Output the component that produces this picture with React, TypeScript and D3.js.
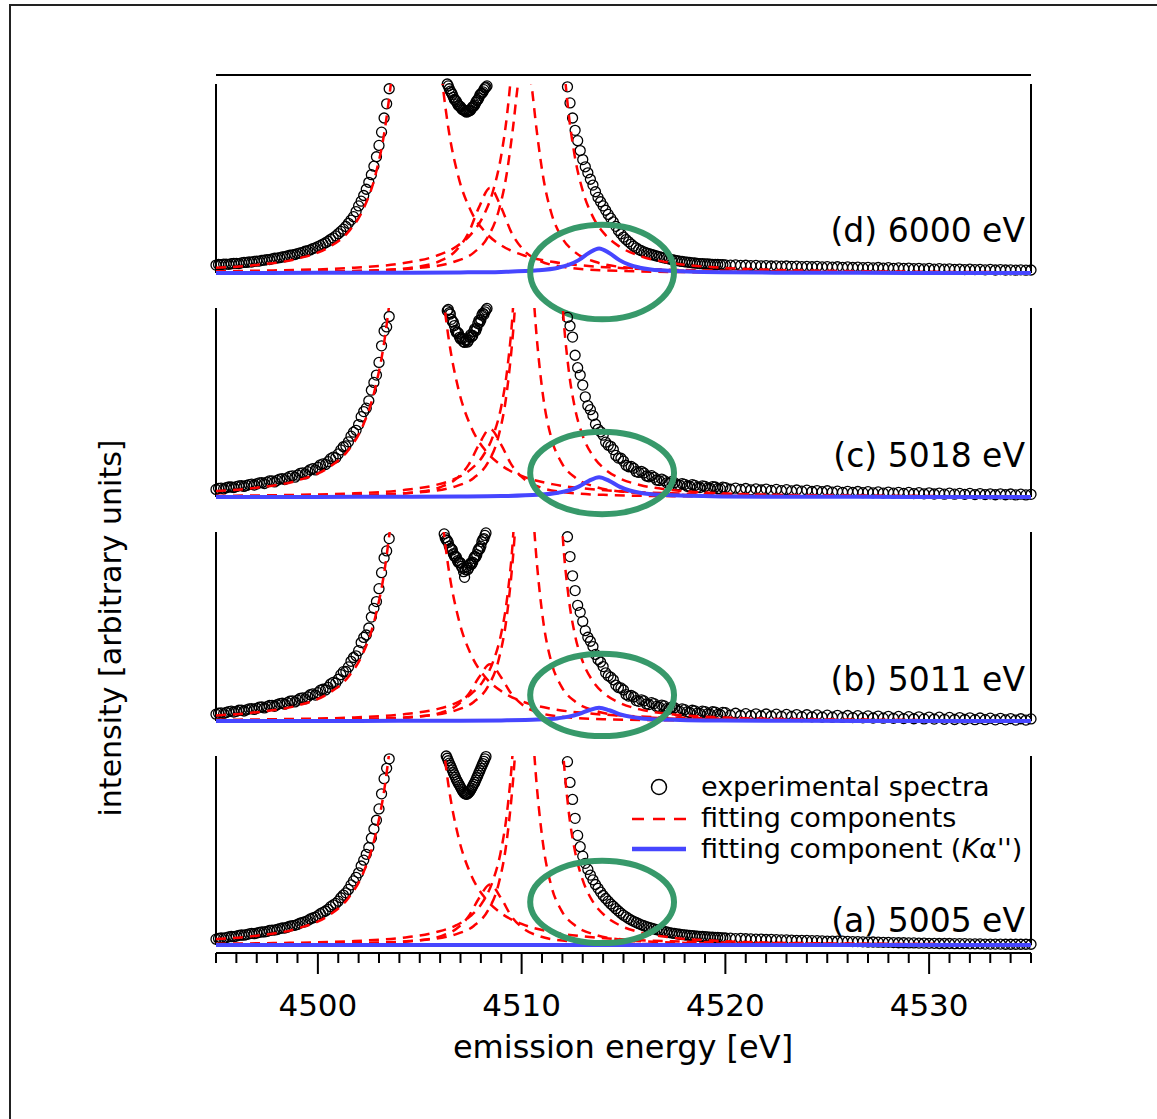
import React from "react";
import * as d3 from "d3";

// ---------------- DATA ----------------
const panelLabels = ["(d) 6000 eV", "(c) 5018 eV", "(b) 5011 eV", "(a) 5005 eV"];
const xTickLabels = [4500, 4510, 4520, 4530];
const legendLabels = ["experimental spectra", "fitting components", "fitting component ("];

// experimental spectra: energies (eV)
const expLeftE = [4495, 4495.125, 4495.25, 4495.375, 4495.5, 4495.625, 4495.75, 4495.875, 4496, 4496.125, 4496.25, 4496.375, 4496.5, 4496.625, 4496.75, 4496.875, 4497, 4497.125, 4497.25, 4497.375, 4497.5, 4497.625, 4497.75, 4497.875, 4498, 4498.125, 4498.25, 4498.375, 4498.5, 4498.625, 4498.75, 4498.875, 4499, 4499.125, 4499.25, 4499.375, 4499.5, 4499.625, 4499.75, 4499.875, 4500, 4500.125, 4500.25, 4500.375, 4500.5, 4500.625, 4500.75, 4500.875, 4501, 4501.125, 4501.25, 4501.375, 4501.5, 4501.625, 4501.75, 4501.875, 4502, 4502.125, 4502.25, 4502.375, 4502.5, 4502.625, 4502.75, 4502.875, 4503, 4503.125, 4503.25, 4503.375, 4503.5];
const expMidE = [4506.2, 4506.25, 4506.3, 4506.35, 4506.4, 4506.45, 4506.5, 4506.55, 4506.6, 4506.65, 4506.7, 4506.75, 4506.8, 4506.85, 4506.9, 4506.95, 4507.0, 4507.05, 4507.1, 4507.15, 4507.2, 4507.25, 4507.3, 4507.35, 4507.4, 4507.45, 4507.5, 4507.55, 4507.6, 4507.65, 4507.7, 4507.75, 4507.8, 4507.85, 4507.9, 4507.95, 4508.0, 4508.05, 4508.1, 4508.15, 4508.2, 4508.25, 4508.3];
const expRightE = [4512.25, 4512.375, 4512.5, 4512.625, 4512.75, 4512.875, 4513, 4513.125, 4513.25, 4513.375, 4513.5, 4513.625, 4513.75, 4513.875, 4514, 4514.125, 4514.25, 4514.375, 4514.5, 4514.625, 4514.75, 4514.875, 4515, 4515.125, 4515.25, 4515.375, 4515.5, 4515.625, 4515.75, 4515.875, 4516, 4516.125, 4516.25, 4516.375, 4516.5, 4516.625, 4516.75, 4516.875, 4517, 4517.125, 4517.25, 4517.375, 4517.5, 4517.625, 4517.75, 4517.875, 4518, 4518.125, 4518.25, 4518.375, 4518.5, 4518.625, 4518.75, 4518.875, 4519, 4519.125, 4519.25, 4519.375, 4519.5, 4519.625, 4519.75, 4519.875, 4520,
  4520.25, 4520.5, 4520.75, 4521, 4521.25, 4521.5, 4521.75, 4522, 4522.25, 4522.5, 4522.75, 4523, 4523.25, 4523.5, 4523.75, 4524, 4524.25, 4524.5, 4524.75, 4525, 4525.25, 4525.5, 4525.75, 4526, 4526.25, 4526.5, 4526.75, 4527, 4527.25, 4527.5, 4527.75, 4528, 4528.25, 4528.5, 4528.75, 4529, 4529.25, 4529.5, 4529.75, 4530, 4530.25, 4530.5, 4530.75, 4531, 4531.25, 4531.5, 4531.75, 4532, 4532.25, 4532.5, 4532.75, 4533, 4533.25, 4533.5, 4533.75, 4534, 4534.25, 4534.5, 4534.75, 4535];

// experimental intensities (1 = top of each panel)
const expLeft_d = [0.042, 0.045, 0.044, 0.047, 0.047, 0.046, 0.049, 0.051, 0.051, 0.05, 0.054, 0.056, 0.056, 0.059, 0.058, 0.062, 0.063, 0.063, 0.067, 0.068, 0.071, 0.071, 0.075, 0.078, 0.079, 0.081, 0.085, 0.086, 0.09, 0.094, 0.096, 0.098, 0.103, 0.106, 0.109, 0.115, 0.118, 0.122, 0.129, 0.133, 0.14, 0.146, 0.153, 0.16, 0.168, 0.178, 0.186, 0.196, 0.208, 0.22, 0.232, 0.246, 0.263, 0.28, 0.298, 0.325, 0.355, 0.38, 0.41, 0.443, 0.48, 0.52, 0.565, 0.615, 0.675, 0.745, 0.82, 0.895, 0.975];
const expLeft_c = [0.04, 0.046, 0.047, 0.043, 0.049, 0.053, 0.053, 0.05, 0.055, 0.059, 0.06, 0.056, 0.061, 0.066, 0.068, 0.063, 0.069, 0.075, 0.076, 0.071, 0.079, 0.085, 0.085, 0.08, 0.088, 0.095, 0.097, 0.092, 0.101, 0.109, 0.112, 0.105, 0.116, 0.125, 0.128, 0.122, 0.134, 0.145, 0.15, 0.143, 0.157, 0.17, 0.175, 0.172, 0.187, 0.203, 0.211, 0.207, 0.228, 0.249, 0.266, 0.27, 0.292, 0.322, 0.343, 0.353, 0.383, 0.425, 0.452, 0.47, 0.509, 0.565, 0.606, 0.645, 0.712, 0.8, 0.878, 0.9, 0.955];
const expLeft_b = [0.036, 0.041, 0.043, 0.039, 0.045, 0.05, 0.052, 0.047, 0.051, 0.057, 0.058, 0.053, 0.059, 0.064, 0.066, 0.061, 0.067, 0.073, 0.074, 0.069, 0.076, 0.082, 0.083, 0.078, 0.086, 0.092, 0.094, 0.089, 0.097, 0.105, 0.107, 0.101, 0.11, 0.119, 0.122, 0.117, 0.128, 0.139, 0.143, 0.137, 0.15, 0.163, 0.168, 0.164, 0.178, 0.196, 0.204, 0.2, 0.221, 0.245, 0.261, 0.262, 0.286, 0.316, 0.336, 0.345, 0.372, 0.415, 0.442, 0.455, 0.492, 0.55, 0.596, 0.632, 0.7, 0.785, 0.862, 0.9, 0.965];
const expLeft_a = [0.031, 0.035, 0.037, 0.036, 0.039, 0.043, 0.045, 0.044, 0.047, 0.051, 0.053, 0.052, 0.055, 0.059, 0.061, 0.06, 0.063, 0.067, 0.069, 0.069, 0.072, 0.077, 0.079, 0.079, 0.082, 0.087, 0.09, 0.09, 0.094, 0.1, 0.103, 0.104, 0.109, 0.116, 0.12, 0.123, 0.129, 0.138, 0.143, 0.148, 0.155, 0.166, 0.173, 0.18, 0.189, 0.203, 0.212, 0.22, 0.232, 0.25, 0.264, 0.276, 0.294, 0.318, 0.339, 0.358, 0.382, 0.418, 0.449, 0.48, 0.516, 0.565, 0.614, 0.66, 0.72, 0.8, 0.88, 0.935, 0.985];

const expMid_d = [1.06, 1.04, 1.02, 1.0, 0.99, 0.975, 0.962, 0.955, 0.945, 0.93, 0.918, 0.914, 0.907, 0.895, 0.886, 0.884, 0.879, 0.87, 0.864, 0.863, 0.86, 0.855, 0.851, 0.855, 0.858, 0.858, 0.862, 0.872, 0.879, 0.882, 0.889, 0.902, 0.912, 0.917, 0.926, 0.94, 0.948, 0.951, 0.958, 0.97, 0.979, 0.983, 0.99];
const expMid_c = [1.04, 1.03, 1.01, 0.985, 0.992, 0.975, 0.968, 0.94, 0.928, 0.925, 0.907, 0.882, 0.87, 0.872, 0.866, 0.845, 0.836, 0.842, 0.838, 0.822, 0.818, 0.828, 0.832, 0.82, 0.83, 0.845, 0.858, 0.848, 0.855, 0.876, 0.89, 0.88, 0.894, 0.918, 0.934, 0.925, 0.938, 0.962, 0.972, 0.965, 0.98, 0.99, 0.998];
const expMid_b = [0.99, 0.97, 0.958, 0.955, 0.945, 0.925, 0.913, 0.912, 0.905, 0.885, 0.872, 0.872, 0.866, 0.848, 0.838, 0.84, 0.836, 0.818, 0.808, 0.79, 0.76, 0.8, 0.816, 0.8, 0.808, 0.825, 0.836, 0.83, 0.84, 0.86, 0.871, 0.868, 0.88, 0.9, 0.912, 0.91, 0.925, 0.948, 0.96, 0.965, 0.982, 0.995, 1.01];
const expMid_a = [1.03, 1.015, 1.0, 0.988, 0.975, 0.962, 0.95, 0.938, 0.925, 0.912, 0.9, 0.887, 0.875, 0.865, 0.855, 0.845, 0.835, 0.825, 0.815, 0.808, 0.802, 0.799, 0.797, 0.8, 0.805, 0.812, 0.82, 0.83, 0.84, 0.85, 0.86, 0.872, 0.885, 0.897, 0.91, 0.922, 0.935, 0.948, 0.96, 0.972, 0.985, 0.997, 1.01];

const expRight_d = [0.985, 0.9, 0.82, 0.755, 0.7, 0.648, 0.6, 0.562, 0.53, 0.496, 0.465, 0.43, 0.4, 0.377, 0.355, 0.332, 0.31, 0.29, 0.27, 0.247, 0.225, 0.207, 0.19, 0.177, 0.165, 0.153, 0.142, 0.133, 0.124, 0.118, 0.112, 0.107, 0.102, 0.098, 0.094, 0.09, 0.087, 0.083, 0.08, 0.077, 0.074, 0.071, 0.068, 0.066, 0.063, 0.061, 0.059, 0.058, 0.056, 0.054, 0.053, 0.051, 0.05, 0.049, 0.048, 0.048, 0.047, 0.046, 0.045, 0.045, 0.044, 0.044, 0.043,
  0.042, 0.043, 0.04, 0.041, 0.039, 0.04, 0.038, 0.039, 0.037, 0.038, 0.036, 0.037, 0.035, 0.036, 0.034, 0.035, 0.033, 0.035, 0.032, 0.034, 0.031, 0.033, 0.03, 0.032, 0.029, 0.031, 0.028, 0.03, 0.027, 0.029, 0.026, 0.028, 0.025, 0.027, 0.024, 0.026, 0.023, 0.025, 0.022, 0.024, 0.021, 0.023, 0.02, 0.022, 0.019, 0.021, 0.018, 0.02, 0.018, 0.019, 0.017, 0.019, 0.016, 0.018, 0.016, 0.017, 0.015, 0.017, 0.015, 0.016];
const expRight_c = [0.95, 0.905, 0.846, 0.75, 0.684, 0.645, 0.592, 0.53, 0.483, 0.462, 0.431, 0.385, 0.358, 0.345, 0.327, 0.29, 0.274, 0.268, 0.251, 0.22, 0.206, 0.205, 0.19, 0.168, 0.16, 0.162, 0.152, 0.134, 0.13, 0.136, 0.127, 0.111, 0.107, 0.113, 0.104, 0.09, 0.087, 0.095, 0.087, 0.075, 0.073, 0.082, 0.076, 0.064, 0.063, 0.071, 0.067, 0.057, 0.056, 0.065, 0.061, 0.051, 0.05, 0.059, 0.056, 0.047, 0.046, 0.055, 0.053, 0.044, 0.043, 0.052, 0.05,
  0.041, 0.047, 0.04, 0.045, 0.038, 0.043, 0.037, 0.042, 0.035, 0.04, 0.034, 0.039, 0.032, 0.037, 0.031, 0.036, 0.029, 0.034, 0.028, 0.033, 0.026, 0.031, 0.025, 0.03, 0.024, 0.029, 0.023, 0.028, 0.022, 0.027, 0.021, 0.026, 0.02, 0.025, 0.019, 0.024, 0.018, 0.023, 0.017, 0.022, 0.016, 0.021, 0.015, 0.02, 0.015, 0.019, 0.014, 0.019, 0.013, 0.018, 0.013, 0.017, 0.012, 0.017, 0.012, 0.016, 0.011, 0.015, 0.011, 0.014];
const expRight_b = [0.975, 0.87, 0.768, 0.69, 0.612, 0.575, 0.527, 0.478, 0.443, 0.422, 0.394, 0.352, 0.326, 0.312, 0.288, 0.255, 0.239, 0.232, 0.218, 0.19, 0.177, 0.175, 0.164, 0.14, 0.132, 0.135, 0.127, 0.108, 0.104, 0.112, 0.106, 0.09, 0.087, 0.097, 0.092, 0.077, 0.074, 0.084, 0.08, 0.066, 0.063, 0.074, 0.07, 0.055, 0.052, 0.064, 0.06, 0.048, 0.045, 0.057, 0.054, 0.042, 0.04, 0.052, 0.05, 0.038, 0.036, 0.049, 0.047, 0.035, 0.033, 0.046, 0.044,
  0.031, 0.041, 0.029, 0.039, 0.028, 0.038, 0.027, 0.037, 0.026, 0.036, 0.025, 0.035, 0.024, 0.034, 0.023, 0.033, 0.022, 0.032, 0.021, 0.031, 0.02, 0.03, 0.019, 0.029, 0.018, 0.028, 0.017, 0.027, 0.016, 0.026, 0.015, 0.025, 0.014, 0.024, 0.013, 0.023, 0.012, 0.022, 0.011, 0.021, 0.01, 0.02, 0.009, 0.019, 0.008, 0.018, 0.008, 0.017, 0.007, 0.016, 0.007, 0.015, 0.006, 0.014, 0.006, 0.013, 0.005, 0.012, 0.005, 0.011];
const expRight_a = [0.97, 0.86, 0.77, 0.67, 0.58, 0.52, 0.47, 0.432, 0.4, 0.37, 0.345, 0.32, 0.3, 0.28, 0.262, 0.246, 0.232, 0.217, 0.205, 0.192, 0.18, 0.168, 0.158, 0.149, 0.14, 0.132, 0.125, 0.119, 0.113, 0.107, 0.102, 0.097, 0.093, 0.089, 0.085, 0.081, 0.078, 0.075, 0.072, 0.069, 0.066, 0.063, 0.061, 0.059, 0.057, 0.055, 0.054, 0.052, 0.051, 0.049, 0.048, 0.047, 0.046, 0.045, 0.044, 0.043, 0.042, 0.041, 0.04, 0.04, 0.039, 0.038, 0.037,
  0.036, 0.034, 0.035, 0.033, 0.032, 0.031, 0.031, 0.029, 0.03, 0.028, 0.027, 0.027, 0.026, 0.025, 0.025, 0.024, 0.023, 0.023, 0.022, 0.021, 0.021, 0.02, 0.02, 0.019, 0.018, 0.018, 0.017, 0.016, 0.016, 0.015, 0.014, 0.014, 0.013, 0.012, 0.012, 0.011, 0.011, 0.01, 0.01, 0.009, 0.009, 0.008, 0.008, 0.008, 0.007, 0.007, 0.007, 0.006, 0.006, 0.006, 0.005, 0.005, 0.005, 0.005, 0.004, 0.004, 0.004, 0.004, 0.004, 0.004];

// fitting component: K-alpha2 main line
const compKa2E = [4495, 4497, 4499, 4500.5, 4501.5, 4502.2, 4502.8, 4503.3, 4503.8, 4504.3, 4504.85, 4505.4, 4505.9, 4506.4, 4506.9, 4507.5, 4508.2, 4509, 4510, 4511.5, 4513, 4515, 4518, 4522, 4528, 4535];
const compKa2_d = [0.0273, 0.0427, 0.0759, 0.134, 0.218, 0.331, 0.508, 0.77, 1.229, 1.94, 2.48, 1.94, 1.229, 0.77, 0.508, 0.331, 0.218, 0.146, 0.097, 0.059, 0.0397, 0.0257, 0.0155, 0.0091, 0.005, 0.0029];
const compKa2_c = [0.0316, 0.0494, 0.0874, 0.1538, 0.2488, 0.375, 0.57, 0.852, 1.325, 2.01, 2.5, 2.01, 1.325, 0.852, 0.57, 0.375, 0.2488, 0.168, 0.1117, 0.0682, 0.0458, 0.0297, 0.0178, 0.0105, 0.0058, 0.0034];
const compKa2_b = [0.0295, 0.0462, 0.082, 0.1445, 0.2344, 0.355, 0.542, 0.817, 1.289, 2.0, 2.52, 2.0, 1.289, 0.817, 0.542, 0.355, 0.2344, 0.158, 0.1048, 0.0639, 0.0429, 0.0278, 0.0167, 0.0098, 0.0054, 0.0032];
const compKa2_a = [0.0316, 0.0494, 0.0874, 0.1538, 0.2488, 0.375, 0.57, 0.852, 1.325, 2.01, 2.5, 2.01, 1.325, 0.852, 0.57, 0.375, 0.2488, 0.168, 0.1117, 0.0682, 0.0458, 0.0297, 0.0178, 0.0105, 0.0058, 0.0034];

// fitting component: satellite between K-alpha2 and K-alpha1
const compSatE = [4495, 4498.9, 4502.9, 4504.9, 4506.0, 4506.8, 4507.4, 4507.9, 4508.45, 4509.0, 4509.5, 4510.1, 4510.9, 4512.0, 4514.0, 4518.0, 4525.0, 4535.0];
const compSat_d = [0.0025, 0.0049, 0.0141, 0.033, 0.064, 0.121, 0.214, 0.346, 0.45, 0.346, 0.214, 0.121, 0.064, 0.033, 0.0141, 0.0049, 0.0016, 0.0006];
const compSat_c = [0.002, 0.0039, 0.0113, 0.0265, 0.0515, 0.097, 0.171, 0.276, 0.36, 0.276, 0.171, 0.097, 0.0515, 0.0265, 0.0113, 0.0039, 0.0013, 0.0005];
const compSat_b = [0.0017, 0.0032, 0.0094, 0.022, 0.043, 0.081, 0.143, 0.23, 0.3, 0.23, 0.143, 0.081, 0.043, 0.022, 0.0094, 0.0032, 0.0011, 0.0004];
const compSat_a = [0.0018, 0.0035, 0.01, 0.0235, 0.0458, 0.086, 0.152, 0.246, 0.32, 0.246, 0.152, 0.086, 0.0458, 0.0235, 0.01, 0.0035, 0.0012, 0.0004];

// fitting component: narrow K-alpha1 shoulder
const compKa1bE = [4495, 4502.15, 4505.15, 4506.65, 4507.65, 4508.35, 4508.85, 4509.25, 4509.55, 4509.85, 4510.15, 4510.45, 4510.75, 4511.05, 4511.45, 4511.95, 4512.65, 4513.65, 4515.15, 4518.15, 4522.15, 4535];
const compKa1b_d = [0.0033, 0.0115, 0.029, 0.058, 0.108, 0.192, 0.32, 0.513, 0.745, 1.021, 1.164, 1.021, 0.745, 0.513, 0.32, 0.192, 0.108, 0.058, 0.029, 0.0115, 0.0051, 0.0012];
const compKa1b_c = [0.0029, 0.0105, 0.0265, 0.053, 0.101, 0.183, 0.315, 0.536, 0.833, 1.25, 1.5, 1.25, 0.833, 0.536, 0.315, 0.183, 0.101, 0.053, 0.0265, 0.0105, 0.0047, 0.0011];
const compKa1b_b = [0.0029, 0.0105, 0.0265, 0.053, 0.101, 0.183, 0.315, 0.536, 0.833, 1.25, 1.5, 1.25, 0.833, 0.536, 0.315, 0.183, 0.101, 0.053, 0.0265, 0.0105, 0.0047, 0.0011];
const compKa1b_a = [0.0029, 0.0105, 0.0265, 0.053, 0.101, 0.183, 0.315, 0.536, 0.833, 1.25, 1.5, 1.25, 0.833, 0.536, 0.315, 0.183, 0.101, 0.053, 0.0265, 0.0105, 0.0047, 0.0011];

// fitting component: K-alpha1 main line
const compKa1E = [4495, 4497.8, 4501.8, 4504.3, 4505.8, 4506.8, 4507.5, 4508.1, 4508.6, 4509.0, 4509.3, 4509.6, 4509.9, 4510.2, 4510.5, 4510.8, 4511.1, 4511.4, 4511.7, 4512.0, 4512.3, 4512.6, 4513.0, 4513.5, 4514.1, 4514.8, 4515.8, 4517.3, 4519.8, 4523.8, 4535];
const compKa1_d = [0.0092, 0.0136, 0.0282, 0.0539, 0.0904, 0.14, 0.203, 0.297, 0.435, 0.623, 0.852, 1.217, 1.825, 2.84, 4.26, 5.11, 4.26, 2.84, 1.825, 1.217, 0.852, 0.623, 0.435, 0.297, 0.203, 0.14, 0.0904, 0.0539, 0.0282, 0.0136, 0.0039];
const compKa1_c = [0.0064, 0.0095, 0.0197, 0.0378, 0.0637, 0.0994, 0.146, 0.217, 0.324, 0.479, 0.681, 1.039, 1.758, 3.48, 8.42, 16, 8.42, 3.48, 1.758, 1.039, 0.681, 0.479, 0.324, 0.217, 0.146, 0.0994, 0.0637, 0.0378, 0.0197, 0.0095, 0.0027];
const compKa1_b = [0.0062, 0.0092, 0.0191, 0.0366, 0.0617, 0.0963, 0.141, 0.21, 0.314, 0.464, 0.66, 1.007, 1.703, 3.37, 8.16, 15.5, 8.16, 3.37, 1.703, 1.007, 0.66, 0.464, 0.314, 0.21, 0.141, 0.0963, 0.0617, 0.0366, 0.0191, 0.0092, 0.0026];
const compKa1_a = [0.0068, 0.01, 0.021, 0.0401, 0.0677, 0.105, 0.154, 0.229, 0.343, 0.506, 0.717, 1.09, 1.83, 3.54, 8.1, 14.2, 8.1, 3.54, 1.83, 1.09, 0.717, 0.506, 0.343, 0.229, 0.154, 0.105, 0.0677, 0.0401, 0.021, 0.01, 0.0029];

// fitting component K-alpha'' (blue)
const compKaPPE = [4495, 4500, 4504, 4507, 4509, 4510.8, 4511.8, 4512.3, 4512.8, 4513.3, 4513.8, 4514.3, 4514.8, 4515.3, 4515.8, 4516.8, 4519.8, 4523.8, 4529, 4535];
const compKaPP_d = [0.0004, 0.0007, 0.0015, 0.003, 0.0059, 0.0142, 0.0281, 0.0426, 0.0681, 0.106, 0.13, 0.106, 0.0681, 0.0426, 0.0281, 0.0142, 0.0039, 0.0014, 0.0006, 0.0003];
const compKaPP_c = [0.0003, 0.0006, 0.0012, 0.0024, 0.0048, 0.0114, 0.0227, 0.0344, 0.055, 0.0856, 0.105, 0.0856, 0.055, 0.0344, 0.0227, 0.0114, 0.0031, 0.0011, 0.0005, 0.0003];
const compKaPP_b = [0.0002, 0.0004, 0.0008, 0.0016, 0.0032, 0.0076, 0.0151, 0.023, 0.0367, 0.057, 0.07, 0.057, 0.0367, 0.023, 0.0151, 0.0076, 0.0021, 0.0008, 0.0003, 0.0002];
const compKaPP_a = [0, 0, 0, 0, 0, 0, 0, 0, 0, 0, 0, 0, 0, 0, 0, 0, 0, 0, 0, 0];

// green highlight ellipses (annotation), in data units
const highlightE = [4513.95, 4513.95, 4513.95, 4513.95];
const highlightV = [0.005, 0.127, 0.138, 0.228];
const highlightHalfWidthE = [3.53, 3.53, 3.53, 3.53];
const highlightHalfHeightV = [0.25, 0.218, 0.218, 0.218];

// ---------------- LAYOUT ----------------
const W = 1157;
const H = 1119;
const X0 = 216;
const X1 = 1031;
const PANEL_TOP0 = 84;
const PANEL_STEP = 224;
const PANEL_H = 189;
const AXIS_Y = 953;
const LABEL_OFFSET = [31, 30, 30, 13];
const FONT = "'DejaVu Sans', Verdana, sans-serif";
const RED = "#ff0000";
const BLUE = "#4646ff";
const GREEN = "#37996a";

type Pt = [number, number];
const zip = (es: number[], vs: number[]): Pt[] =>
  es.slice(0, Math.min(es.length, vs.length)).map((e, i) => [e, vs[i]] as Pt);

const panelData = [
  { left: expLeft_d, mid: expMid_d, right: expRight_d, ka2: compKa2_d, sat: compSat_d, ka1b: compKa1b_d, ka1: compKa1_d, kapp: compKaPP_d },
  { left: expLeft_c, mid: expMid_c, right: expRight_c, ka2: compKa2_c, sat: compSat_c, ka1b: compKa1b_c, ka1: compKa1_c, kapp: compKaPP_c },
  { left: expLeft_b, mid: expMid_b, right: expRight_b, ka2: compKa2_b, sat: compSat_b, ka1b: compKa1b_b, ka1: compKa1_b, kapp: compKaPP_b },
  { left: expLeft_a, mid: expMid_a, right: expRight_a, ka2: compKa2_a, sat: compSat_a, ka1b: compKa1b_a, ka1: compKa1_a, kapp: compKaPP_a },
];

export default function App() {
  const x = d3.scaleLinear().domain([4495, 4535]).range([X0, X1]);
  const ticks = x.ticks(40);
  const pxPerE = x(4496) - x(4495);

  return (
    <svg
      width={W}
      height={H}
      style={{ position: "absolute", left: 0, top: 0, display: "block" }}
      fontFamily={FONT}
    >
      <rect x={0} y={0} width={W} height={H} fill="#fff" />
      <rect x={10} y={5} width={W + 20} height={H + 20} fill="none" stroke="#222" strokeWidth={2} />

      <defs>
        {panelData.map((_, i) => {
          const top = PANEL_TOP0 + i * PANEL_STEP;
          return (
            <clipPath id={`clip${i}`} key={i}>
              <rect x={X0} y={top} width={X1 - X0 + 2} height={PANEL_H + 12} />
            </clipPath>
          );
        })}
      </defs>

      {/* top frame line */}
      <line x1={X0} x2={X1} y1={75} y2={75} stroke="#000" strokeWidth={2} />

      {panelData.map((p, i) => {
        const top = PANEL_TOP0 + i * PANEL_STEP;
        const bottom = top + PANEL_H;
        const y = d3.scaleLinear().domain([0, 1]).range([bottom, top]);
        const line = d3
          .line<Pt>()
          .x((d) => x(d[0]))
          .y((d) => y(d[1]))
          .curve(d3.curveMonotoneX);
        const pts = [...zip(expLeftE, p.left), ...zip(expMidE, p.mid), ...zip(expRightE, p.right)].filter(
          (d) => d[1] <= 1.0
        );
        const reds = [zip(compKa2E, p.ka2), zip(compSatE, p.sat), zip(compKa1bE, p.ka1b), zip(compKa1E, p.ka1)];
        return (
          <g key={i}>
            <line x1={X0} x2={X0} y1={top} y2={bottom} stroke="#000" strokeWidth={2} />
            <line x1={X1} x2={X1} y1={top} y2={bottom} stroke="#000" strokeWidth={2} />
            <g>
              {pts.map((d, j) => (
                <circle key={j} cx={x(d[0])} cy={y(d[1])} r={5} fill="none" stroke="#000" strokeWidth={1.3} />
              ))}
            </g>
            <g clipPath={`url(#clip${i})`}>
              {reds.map((r, j) => (
                <path key={j} d={line(r) || ""} fill="none" stroke={RED} strokeWidth={2.5} strokeDasharray="10,7" />
              ))}
              <path d={line(zip(compKaPPE, p.kapp)) || ""} fill="none" stroke={BLUE} strokeWidth={4} />
            </g>
            <ellipse
              cx={x(highlightE[i])}
              cy={y(highlightV[i])}
              rx={highlightHalfWidthE[i] * pxPerE}
              ry={highlightHalfHeightV[i] * PANEL_H}
              fill="none"
              stroke={GREEN}
              strokeWidth={6}
            />
            <text x={1025} y={bottom - LABEL_OFFSET[i]} textAnchor="end" fontSize={33} fill="#000">
              {panelLabels[i]}
            </text>
          </g>
        );
      })}

      {/* x axis */}
      <line x1={X0} x2={X1} y1={AXIS_Y} y2={AXIS_Y} stroke="#000" strokeWidth={2} />
      {ticks.map((t) => {
        const major = xTickLabels.includes(t);
        return (
          <line
            key={t}
            x1={x(t)}
            x2={x(t)}
            y1={AXIS_Y}
            y2={AXIS_Y + (major ? 21 : 10)}
            stroke="#000"
            strokeWidth={2}
          />
        );
      })}
      {xTickLabels.map((t) => (
        <text key={t} x={x(t)} y={1016} textAnchor="middle" fontSize={31} fill="#000">
          {d3.format("d")(t)}
        </text>
      ))}
      <text x={623} y={1058} textAnchor="middle" fontSize={32} fill="#000">
        emission energy [eV]
      </text>
      <text transform="translate(121,628) rotate(-90)" textAnchor="middle" fontSize={30} fill="#000">
        intensity [arbitrary units]
      </text>

      {/* legend */}
      <g fontSize={27} fill="#000">
        <circle cx={659} cy={787} r={7.5} fill="none" stroke="#000" strokeWidth={1.5} />
        <text x={701} y={796}>{legendLabels[0]}</text>
        <line x1={632} x2={686} y1={819} y2={819} stroke={RED} strokeWidth={2.5} strokeDasharray="12,9" />
        <text x={701} y={827}>{legendLabels[1]}</text>
        <line x1={632} x2={686} y1={849} y2={849} stroke={BLUE} strokeWidth={4.5} />
        <text x={701} y={858}>
          {legendLabels[2]}
          <tspan fontStyle="italic">K</tspan>
          <tspan>α</tspan>
          <tspan>'')</tspan>
        </text>
      </g>
    </svg>
  );
}
